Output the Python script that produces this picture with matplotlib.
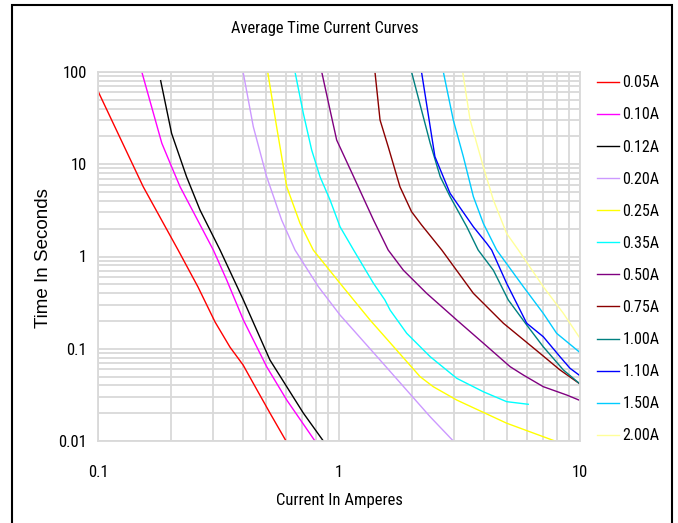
import matplotlib
matplotlib.use("Agg")
import matplotlib.pyplot as plt
from matplotlib.ticker import LogLocator, NullFormatter, FixedLocator, FixedFormatter
from matplotlib.patches import Rectangle

labels = ["0.05A", "0.10A", "0.12A", "0.20A", "0.25A", "0.35A",
          "0.50A", "0.75A", "1.00A", "1.10A", "1.50A", "2.00A"]
colors = ["#FF0000", "#FF00FF", "#000000", "#CC99FF", "#FFFF00", "#00FFFF",
          "#800080", "#8B0000", "#008080", "#0000FF", "#00CCFF", "#FFFF99"]

# current (A) and time (s) for each curve
i_005 = [0.1, 0.154, 0.215, 0.26, 0.306, 0.353, 0.40, 0.457, 0.517, 0.603]
t_005 = [62, 5.71, 1.175, 0.467, 0.195, 0.104, 0.0667, 0.0357, 0.0201, 0.01]

i_010 = [0.152, 0.184, 0.202, 0.219, 0.301, 0.342, 0.401, 0.501, 0.607, 0.795]
t_010 = [100, 16.9, 9.4, 5.71, 1.175, 0.556, 0.205, 0.0639, 0.0278, 0.01]

i_012 = [0.182, 0.202, 0.233, 0.265, 0.321, 0.401, 0.517, 0.711, 0.861]
t_012 = [80.5, 21.6, 7.33, 3.19, 1.175, 0.338, 0.0755, 0.0201, 0.01]

i_020 = [0.40, 0.441, 0.501, 0.578, 0.657, 0.821, 1.01, 1.48, 2.39, 2.98]
t_020 = [100, 25.5, 7.33, 2.49, 1.175, 0.471, 0.232, 0.0755, 0.0183, 0.01]

i_025 = [0.506, 0.551, 0.607, 0.689, 0.782, 1.01, 1.345, 2.17, 2.46, 3.08, 4.96, 7.87]
t_025 = [100, 25.5, 5.71, 2.29, 1.175, 0.512, 0.205, 0.0498, 0.0388, 0.0278, 0.0156, 0.01]

i_035 = [0.657, 0.711, 0.770, 0.834, 0.918, 1.01, 1.15, 1.39, 1.55, 1.63, 1.91, 2.39, 3.08, 3.97, 4.96, 6.1]
t_035 = [100, 35.7, 14.3, 7.33, 4.10, 2.10, 1.175, 0.512, 0.338, 0.262, 0.147, 0.082, 0.0478, 0.0342, 0.0267, 0.025]

i_050 = [0.848, 0.918, 0.978, 1.15, 1.39, 1.60, 1.85, 2.31, 3.08, 3.97, 5.13, 5.82, 7.04, 8.81, 10.0]
t_050 = [100, 38.7, 18.3, 7.33, 2.49, 1.175, 0.71, 0.399, 0.205, 0.115, 0.0639, 0.0519, 0.0388, 0.0315, 0.0275]

i_075 = [1.41, 1.48, 1.60, 1.79, 2.0, 2.20, 2.67, 3.61, 4.81, 6.82, 8.26, 10.0]
t_075 = [100, 30.2, 15.5, 5.71, 3.06, 2.20, 1.175, 0.399, 0.189, 0.0893, 0.0589, 0.0415]

i_100 = [2.0, 2.39, 2.63, 2.89, 3.39, 3.78, 4.37, 5.04, 6.01, 7.04, 8.53, 10.0]
t_100 = [100, 16.9, 7.33, 4.46, 2.10, 1.175, 0.71, 0.338, 0.181, 0.105, 0.0589, 0.0415]

i_110 = [2.20, 2.39, 2.50, 2.89, 3.61, 4.10, 4.30, 4.96, 5.46, 6.01, 7.04, 8.26, 9.09, 10.0]
t_110 = [100, 25.5, 12.1, 4.84, 2.10, 1.39, 1.175, 0.512, 0.311, 0.189, 0.135, 0.082, 0.0614, 0.051]

i_150 = [2.71, 2.98, 3.28, 3.61, 3.97, 4.51, 5.82, 7.04, 8.0, 10.0]
t_150 = [100, 30.2, 12.1, 4.46, 2.29, 1.175, 0.471, 0.242, 0.147, 0.091]

i_200 = [3.26, 3.50, 3.97, 4.37, 4.96, 5.55, 7.04, 8.53, 10.0]
t_200 = [100, 30.2, 9.4, 4.10, 1.78, 1.175, 0.471, 0.242, 0.13]

currents = [i_005, i_010, i_012, i_020, i_025, i_035, i_050, i_075, i_100, i_110, i_150, i_200]
times = [t_005, t_010, t_012, t_020, t_025, t_035, t_050, t_075, t_100, t_110, t_150, t_200]

xticks = [0.1, 1, 10]
xtick_labels = ["0.1", "1", "10"]
yticks = [0.01, 0.1, 1, 10, 100]
ytick_labels = ["0.01", "0.1", "1", "10", "100"]

narrow = ["Liberation Sans Narrow", "Arial Narrow", "Roboto Condensed",
          "Archivo Narrow", "Liberation Sans", "DejaVu Sans"]
regular = ["Liberation Sans", "Arimo", "DejaVu Sans"]

W, H = 678, 523
fig = plt.figure(figsize=(W / 100, H / 100), dpi=100)
fig.patch.set_facecolor("white")
ax = fig.add_axes([98 / W, (H - 441) / H, (580 - 98) / W, (441 - 72) / H])

for xs, ys, c, lab in zip(currents, times, colors, labels):
    ax.plot(xs, ys, color=c, lw=1.0, label=lab)

ax.set_xscale("log")
ax.set_yscale("log")
ax.set_xlim(0.1, 10)
ax.set_ylim(0.01, 100)
ax.xaxis.set_major_locator(FixedLocator(xticks))
ax.xaxis.set_major_formatter(FixedFormatter(xtick_labels))
ax.yaxis.set_major_locator(FixedLocator(yticks))
ax.yaxis.set_major_formatter(FixedFormatter(ytick_labels))
ax.xaxis.set_minor_locator(LogLocator(base=10, subs=range(2, 10)))
ax.yaxis.set_minor_locator(LogLocator(base=10, subs=range(2, 10)))
ax.xaxis.set_minor_formatter(NullFormatter())
ax.yaxis.set_minor_formatter(NullFormatter())
ax.grid(True, which="both", color="#D9D9D9", lw=1.3)
ax.set_axisbelow(True)
ax.tick_params(axis="x", which="both", length=0, pad=17)
ax.tick_params(axis="y", which="both", length=0, pad=8)
for lab in ax.get_xticklabels() + ax.get_yticklabels():
    lab.set_family(narrow)
    lab.set_fontsize(12)
for s in ax.spines.values():
    s.set_color("#D9D9D9")
    s.set_linewidth(1.3)

xl = ax.set_xlabel("Current In Amperes", family=narrow, fontsize=12)
xl.set_verticalalignment("center")
ax.xaxis.set_label_coords(0.5, (441 - 500) / 369)
yl = ax.set_ylabel("Time In Seconds", family=regular, fontsize=13.5)
yl.set_verticalalignment("center")
ax.yaxis.set_label_coords((43 - 98) / 482, (441 - 258) / 369)
fig.text(325 / W, 1 - 28 / H, "Average Time Current Curves", family=narrow,
         fontsize=11.8, ha="center", va="center")

fig.legend(loc="upper left", bbox_to_anchor=(583 / W, 1 - 61 / H),
           frameon=False, prop={"family": narrow, "size": 11.5},
           handlelength=1.37, handletextpad=0.2, labelspacing=1.07)

fig.patches.append(Rectangle((12 / W, -0.01), (672 - 12) / W, 1 - 5 / H + 0.01,
                             transform=fig.transFigure, fill=False,
                             edgecolor="black", lw=1.5))

fig.savefig("out.png", dpi=100)
